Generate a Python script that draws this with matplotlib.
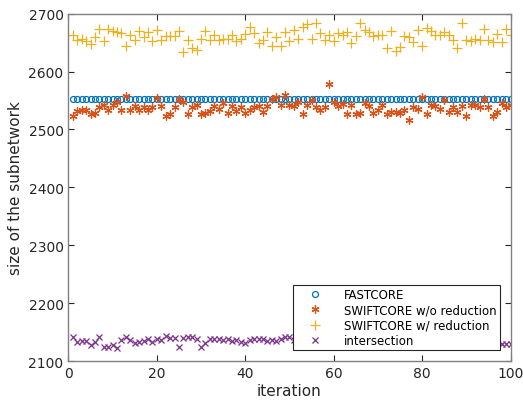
import matplotlib
matplotlib.use('Agg')
import matplotlib.pyplot as plt
import numpy as np

# iteration index
iters = np.arange(1, 101)

fastcore = [2552] * 100

swift_noreduc = [
    2524, 2532, 2534, 2533, 2527, 2528, 2538, 2542, 2534, 2543,
    2547, 2534, 2558, 2534, 2540, 2533, 2538, 2534, 2539, 2555,
    2540, 2523, 2527, 2539, 2553, 2547, 2526, 2539, 2543, 2526,
    2528, 2532, 2540, 2536, 2546, 2528, 2540, 2532, 2539, 2528,
    2534, 2538, 2540, 2530, 2540, 2553, 2556, 2543, 2559, 2543,
    2540, 2547, 2527, 2543, 2551, 2539, 2534, 2538, 2578, 2547,
    2540, 2544, 2526, 2543, 2527, 2528, 2546, 2540, 2528, 2534,
    2543, 2527, 2530, 2530, 2528, 2534, 2517, 2538, 2536, 2556,
    2527, 2543, 2540, 2536, 2551, 2530, 2539, 2530, 2540, 2524,
    2542, 2543, 2538, 2553, 2538, 2523, 2530, 2546, 2538, 2542,
]

swift_reduc = [
    2664, 2655, 2656, 2653, 2648, 2659, 2674, 2653, 2673, 2670,
    2668, 2667, 2644, 2664, 2655, 2670, 2659, 2668, 2653, 2671,
    2654, 2661, 2661, 2661, 2670, 2634, 2655, 2640, 2637, 2657,
    2670, 2654, 2663, 2654, 2657, 2657, 2664, 2653, 2657, 2665,
    2677, 2667, 2649, 2655, 2668, 2644, 2659, 2644, 2668, 2653,
    2671, 2657, 2677, 2682, 2657, 2684, 2667, 2655, 2663, 2653,
    2667, 2663, 2668, 2649, 2661, 2684, 2672, 2668, 2661, 2664,
    2663, 2640, 2670, 2635, 2642, 2661, 2659, 2651, 2671, 2644,
    2676, 2670, 2663, 2664, 2668, 2663, 2655, 2640, 2684, 2655,
    2653, 2657, 2655, 2674, 2655, 2651, 2665, 2651, 2674, 2663,
]

intersect = [
    2141, 2132, 2134, 2135, 2128, 2132, 2142, 2125, 2125, 2127,
    2123, 2136, 2142, 2136, 2131, 2132, 2134, 2138, 2132, 2138,
    2136, 2143, 2140, 2140, 2124, 2140, 2142, 2141, 2138, 2125,
    2131, 2138, 2138, 2138, 2136, 2138, 2134, 2136, 2132, 2131,
    2136, 2138, 2138, 2138, 2135, 2136, 2135, 2138, 2142, 2141,
    2136, 2133, 2138, 2131, 2135, 2137, 2134, 2129, 2136, 2138,
    2133, 2135, 2140, 2132, 2136, 2134, 2130, 2137, 2135, 2133,
    2138, 2131, 2134, 2136, 2132, 2137, 2135, 2130, 2134, 2136,
    2133, 2137, 2131, 2135, 2134, 2126, 2136, 2133, 2135, 2132,
    2137, 2134, 2131, 2135, 2126, 2134, 2133, 2130, 2129, 2130,
]

c_blue = '#0072BD'
c_red = '#D95319'
c_yel = '#EDB120'
c_pur = '#7E2F8E'

fig = plt.figure(figsize=(5.23, 4.02), dpi=100)
ax = fig.add_axes([0.1308, 0.0995, 0.8453, 0.8639])

ax.plot(iters, fastcore, 'o', ls='none', mfc='none', mec=c_blue, ms=4.3, mew=0.9, label='FASTCORE')
ax.plot(iters, swift_noreduc, ls='none', marker=(6, 2, 0), color=c_red, ms=5.8, mew=0.9, label='SWIFTCORE w/o reduction')
ax.plot(iters, swift_reduc, '+', ls='none', color=c_yel, ms=7, mew=0.9, label='SWIFTCORE w/ reduction')
ax.plot(iters, intersect, 'x', ls='none', color=c_pur, ms=5, mew=0.9, label='intersection')

ax.set_xlim(0, 100)
ax.set_ylim(2100, 2700)
ax.set_xticks(np.arange(0, 101, 20))
ax.set_yticks(np.arange(2100, 2701, 100))
ax.tick_params(direction='in', top=True, right=True, labelsize=10, colors='#262626', length=4)
for s in ax.spines.values():
    s.set_color('#808080')
    s.set_linewidth(1)
ax.set_xlabel('iteration', fontsize=11, color='#262626', labelpad=2)
ax.set_ylabel('size of the subnetwork', fontsize=11, color='#262626', labelpad=4)

leg = ax.legend(loc='lower right', fontsize=8.5, fancybox=False, framealpha=1,
                edgecolor='#262626', borderaxespad=0.9, handlelength=3.2,
                labelspacing=0.18, borderpad=0.3)
leg.get_frame().set_linewidth(0.8)

fig.savefig('out.png', dpi=100)
